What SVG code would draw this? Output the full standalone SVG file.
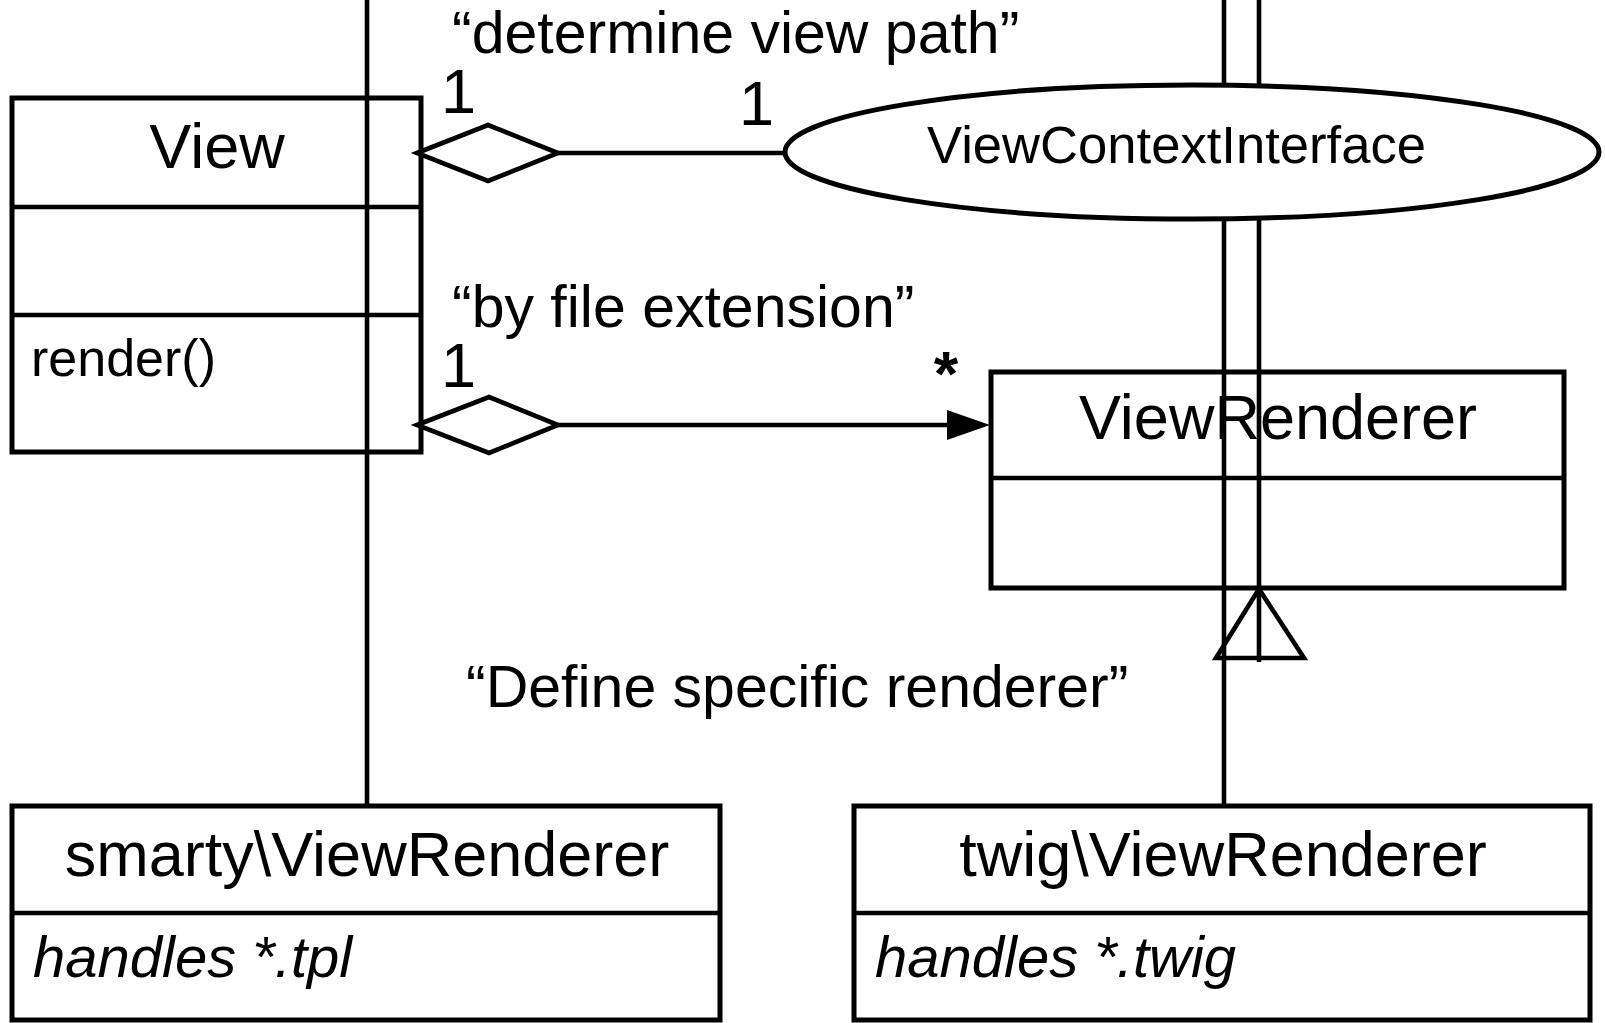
<svg xmlns="http://www.w3.org/2000/svg" width="1605" height="1023" viewBox="0 0 1605 1023">
<style>
.box{fill:#fff;stroke:#000;stroke-width:5}
.ln{fill:none;stroke:#000;stroke-width:4.6}
.t{font-family:"Liberation Sans",Arial,sans-serif;fill:#000}
.cls{font-size:63px;text-anchor:middle}
.lbl{font-size:59px}
.mul{font-size:63px}
.it{font-size:58px;font-style:italic}
</style>
<rect width="1605" height="1023" fill="#fff"/>
<g id="View">
<rect class="box" x="12" y="98" width="409" height="354"/>
<line class="ln" x1="12" y1="207" x2="421" y2="207"/>
<line class="ln" x1="12" y1="315" x2="421" y2="315"/>
<text class="t cls" x="217" y="168">View</text>
<text class="t" x="31" y="376" font-size="52">render()</text>
</g>
<g id="ViewRenderer">
<rect class="box" x="991" y="372" width="573" height="216"/>
<line class="ln" x1="991" y1="478" x2="1564" y2="478"/>
<text class="t cls" x="1278" y="439">ViewRenderer</text>
</g>
<g id="SmartyViewRenderer">
<rect class="box" x="12" y="806" width="708" height="214"/>
<line class="ln" x1="12" y1="913" x2="720" y2="913"/>
<text class="t cls" x="367" y="876">smarty\ViewRenderer</text>
<text class="t it" x="33" y="977">handles *.tpl</text>
</g>
<g id="TwigViewRenderer">
<rect class="box" x="854" y="806" width="736" height="214"/>
<line class="ln" x1="854" y1="913" x2="1590" y2="913"/>
<text class="t cls" x="1223" y="876">twig\ViewRenderer</text>
<text class="t it" x="875" y="977">handles *.twig</text>
</g>
<g id="connectors">
<line class="ln" x1="367" y1="0" x2="367" y2="806"/>
<line class="ln" x1="1224" y1="0" x2="1224" y2="806"/>
<line class="ln" x1="1259" y1="0" x2="1259" y2="662"/>
<polygon class="ln" points="417,153 488,125 558,153 488,181"/>
<line class="ln" x1="558" y1="153" x2="786" y2="153"/>
<polygon class="ln" points="417,425 489,397 558,425 489,453"/>
<line class="ln" x1="558" y1="425" x2="950" y2="425"/>
<polygon points="947,410 990,425 947,440" fill="#000"/>
<polygon class="ln" points="1259,589 1216,658 1304,658"/>
<text class="t lbl" x="452" y="53">“determine view path”</text>
<text class="t mul" x="441" y="113">1</text>
<text class="t mul" x="739" y="125">1</text>
<text class="t lbl" x="452" y="327">“by file extension”</text>
<text class="t mul" x="441" y="387">1</text>
<text class="t mul" x="946" y="395" text-anchor="middle" font-weight="bold">*</text>
<text class="t lbl" x="466" y="707">“Define specific renderer”</text>
</g>
<g id="ViewContextInterface">
<ellipse cx="1192" cy="152" rx="407" ry="67" fill="#fff" stroke="#000" stroke-width="5"/>
<text class="t" x="927" y="163" font-size="52.6">ViewContextInterface</text>
</g>
</svg>
